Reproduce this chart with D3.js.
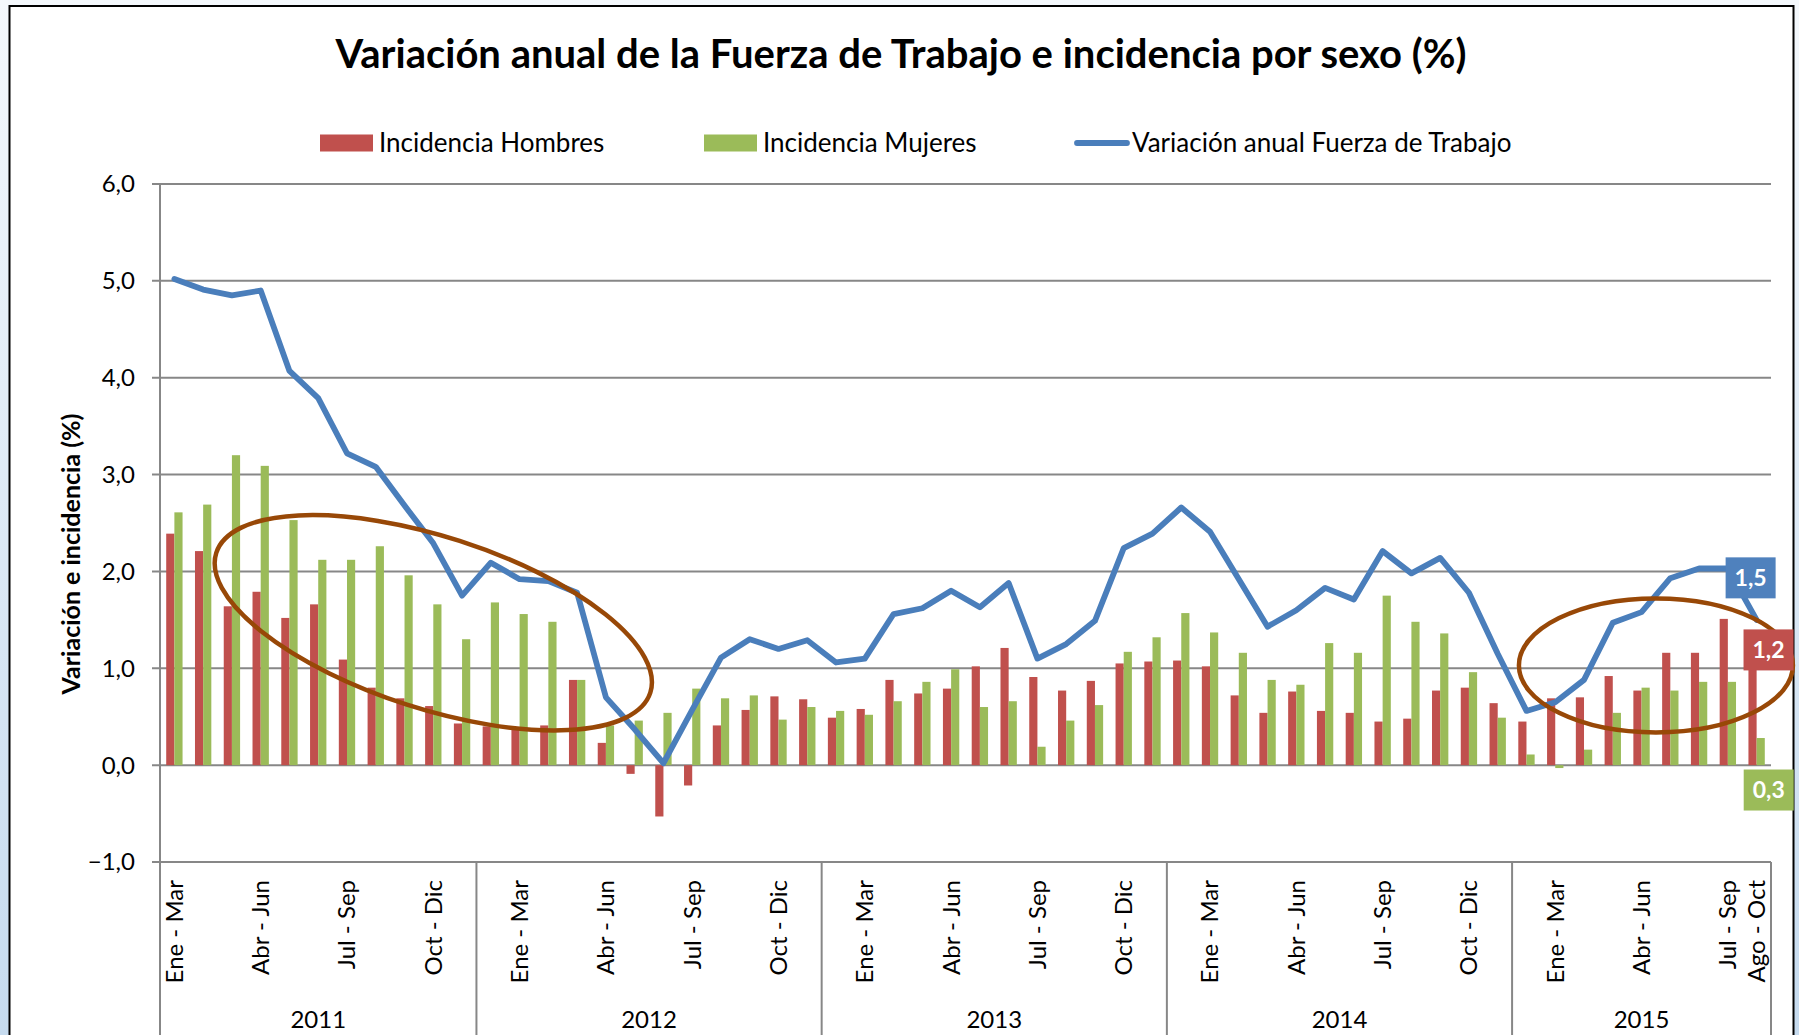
<!DOCTYPE html>
<html>
<head>
<meta charset="utf-8">
<script src="https://cdn.jsdelivr.net/npm/d3@7"></script>
<style>
  html, body { margin: 0; padding: 0; background: #fff; }
  svg { display: block; font-family: Lato, "Open Sans", sans-serif; }
</style>
</head>
<body>
<div id="chart"></div>
<script>
// Trimestres móviles y años
const trimestres = ["Ene - Mar", "Feb - Abr", "Mar - May", "Abr - Jun", "May - Jul", "Jun - Ago",
  "Jul - Sep", "Ago - Oct", "Sep - Nov", "Oct - Dic", "Nov - Ene", "Dic - Feb"];
const anios = ["2011", "2012", "2013", "2014", "2015"];
const periodosPorAnio = [11, 12, 12, 12, 9];
const etiquetasEje = ["Ene - Mar", "Abr - Jun", "Jul - Sep", "Oct - Dic"];
const yTicks = [-1, 0, 1, 2, 3, 4, 5, 6];

// Series (%)
const hombres = [2.39, 2.21, 1.64, 1.79, 1.52, 1.66, 1.09, 0.80, 0.69, 0.61, 0.43,
  0.40, 0.38, 0.41, 0.88, 0.23, -0.09, -0.53, -0.21, 0.41, 0.57, 0.71, 0.68,
  0.49, 0.58, 0.88, 0.74, 0.79, 1.02, 1.21, 0.91, 0.77, 0.87, 1.05, 1.07, 1.08,
  1.02, 0.72, 0.54, 0.76, 0.56, 0.54, 0.45, 0.48, 0.77, 0.80, 0.64, 0.45,
  0.69, 0.70, 0.92, 0.77, 1.16, 1.16, 1.51, 1.20];
const mujeres = [2.61, 2.69, 3.20, 3.09, 2.53, 2.12, 2.12, 2.26, 1.96, 1.66, 1.30,
  1.68, 1.56, 1.48, 0.88, 0.41, 0.46, 0.54, 0.79, 0.69, 0.72, 0.47, 0.60,
  0.56, 0.52, 0.66, 0.86, 0.99, 0.60, 0.66, 0.19, 0.46, 0.62, 1.17, 1.32, 1.57,
  1.37, 1.16, 0.88, 0.83, 1.26, 1.16, 1.75, 1.48, 1.36, 0.96, 0.49, 0.11,
  -0.03, 0.16, 0.54, 0.80, 0.77, 0.86, 0.86, 0.28];
const fuerzaTrabajo = [5.02, 4.91, 4.85, 4.90, 4.07, 3.79, 3.22, 3.08, 2.68, 2.29, 1.75,
  2.09, 1.92, 1.90, 1.78, 0.70, 0.37, 0.02, 0.57, 1.11, 1.30, 1.20, 1.29,
  1.06, 1.10, 1.56, 1.62, 1.80, 1.63, 1.88, 1.10, 1.25, 1.49, 2.24, 2.39, 2.66,
  2.41, 1.92, 1.43, 1.60, 1.83, 1.71, 2.21, 1.98, 2.14, 1.78, 1.15, 0.56,
  0.65, 0.88, 1.47, 1.58, 1.93, 2.03, 2.03, 1.50];

const colores = { h: "#C0504D", m: "#9BBB59", l: "#4A7EBB", elipse: "#984807" };

const width = 1799, height = 1035;
const n = hombres.length;
const periodos = d3.range(n).map(i => trimestres[i % 12]);

const loc = d3.formatLocale({ decimal: ",", thousands: ".", grouping: [3], currency: ["$", ""] });
const fmt = loc.format(".1f");

const svg = d3.select("#chart").append("svg")
  .attr("width", width)
  .attr("height", height);

// Fondo (diapositiva) y área del gráfico
const defs = svg.append("defs");
const grad = defs.append("linearGradient").attr("id", "fondo")
  .attr("x1", 0).attr("y1", 0).attr("x2", 0).attr("y2", 1);
grad.append("stop").attr("offset", "0%").attr("stop-color", "#f4f8fc");
grad.append("stop").attr("offset", "100%").attr("stop-color", "#c6dbef");
svg.append("rect").attr("width", width).attr("height", height).attr("fill", "url(#fondo)");
svg.append("rect")
  .attr("x", 9.5).attr("y", 6)
  .attr("width", 1784).attr("height", 1100)
  .attr("fill", "#fff")
  .attr("stroke", "#000")
  .attr("stroke-width", 2);

// Escalas
const x = d3.scaleBand().domain(d3.range(n)).range([160, 1771]).padding(0);
const xs = d3.scaleBand().domain(["h", "m"]).range([0, x.bandwidth()])
  .paddingInner(0).paddingOuter(0.76);
const y = d3.scaleLinear().domain([-1, 6]).range([862, 184]);

// Rejilla horizontal
svg.append("g").selectAll("line")
  .data(yTicks)
  .join("line")
  .attr("x1", 152).attr("x2", x.range()[1])
  .attr("y1", d => y(d)).attr("y2", d => y(d))
  .attr("stroke", "#878787")
  .attr("stroke-width", 2);

// Etiquetas eje Y
svg.append("g").selectAll("text")
  .data(yTicks)
  .join("text")
  .attr("x", 135)
  .attr("y", d => y(d))
  .attr("dy", "0.35em")
  .attr("text-anchor", "end")
  .attr("font-size", 24)
  .attr("fill", "#000")
  .text(d => fmt(d));

// Eje Y vertical y divisiones de años
svg.append("line")
  .attr("x1", 160).attr("x2", 160)
  .attr("y1", y(6)).attr("y2", height)
  .attr("stroke", "#878787").attr("stroke-width", 2);

let acumulado = 0;
const grupos = anios.map((a, k) => {
  const ini = acumulado;
  acumulado += periodosPorAnio[k];
  return { anio: a, x0: x(ini), x1: x(acumulado - 1) + x.bandwidth() };
});

svg.append("g").selectAll("line")
  .data(grupos)
  .join("line")
  .attr("x1", d => d.x1).attr("x2", d => d.x1)
  .attr("y1", y(-1)).attr("y2", height)
  .attr("stroke", "#878787").attr("stroke-width", 2);

svg.append("g").selectAll("text")
  .data(grupos)
  .join("text")
  .attr("x", d => (d.x0 + d.x1) / 2)
  .attr("y", 1028)
  .attr("text-anchor", "middle")
  .attr("font-size", 24)
  .text(d => d.anio);

// Etiquetas de trimestres (verticales)
const visibles = d3.range(n).filter(i => etiquetasEje.includes(periodos[i]) || i === n - 1);
svg.append("g").selectAll("text")
  .data(visibles)
  .join("text")
  .attr("transform", i => `translate(${x(i) + x.bandwidth() / 2},880) rotate(-90)`)
  .attr("dy", "0.35em")
  .attr("text-anchor", "end")
  .attr("font-size", 24)
  .text(i => periodos[i]);

// Barras
const barras = svg.append("g");
barras.selectAll("rect.h")
  .data(hombres)
  .join("rect")
  .attr("class", "h")
  .attr("x", (d, i) => x(i) + xs("h"))
  .attr("width", xs.bandwidth())
  .attr("y", d => y(Math.max(0, d)))
  .attr("height", d => Math.abs(y(d) - y(0)))
  .attr("fill", colores.h);
barras.selectAll("rect.m")
  .data(mujeres)
  .join("rect")
  .attr("class", "m")
  .attr("x", (d, i) => x(i) + xs("m"))
  .attr("width", xs.bandwidth())
  .attr("y", d => y(Math.max(0, d)))
  .attr("height", d => Math.abs(y(d) - y(0)))
  .attr("fill", colores.m);

// Línea Fuerza de Trabajo
const linea = d3.line()
  .x((d, i) => x(i) + x.bandwidth() / 2)
  .y(d => y(d));
svg.append("path")
  .datum(fuerzaTrabajo)
  .attr("d", linea)
  .attr("fill", "none")
  .attr("stroke", colores.l)
  .attr("stroke-width", 5.8)
  .attr("stroke-linejoin", "round")
  .attr("stroke-linecap", "round");

// Elipses de énfasis (centro en posición de categoría y valor)
const elipses = [
  { pos: 9.5, v: 1.47, rx: 228, ry: 86, rot: 17.85 },
  { pos: 52.0, v: 1.03, rx: 137, ry: 67, rot: 0 }
];
svg.append("g").selectAll("ellipse")
  .data(elipses)
  .join("ellipse")
  .attr("transform", d => `translate(${x(0) + d.pos * x.step()},${y(d.v)}) rotate(${d.rot})`)
  .attr("rx", d => d.rx)
  .attr("ry", d => d.ry)
  .attr("fill", "none")
  .attr("stroke", colores.elipse)
  .attr("stroke-width", 4.5);

// Etiquetas de datos del último periodo
const ult = n - 1;
const etiquetas = [
  { v: fuerzaTrabajo[ult], color: "#4F81BD", cx: x(ult) + x.bandwidth() / 2 - 6, cy: y(fuerzaTrabajo[ult]) - 42 },
  { v: hombres[ult], color: colores.h, cx: x(ult) + xs("h") + 16 + xs.bandwidth() / 2, cy: y(hombres[ult]) + 1 },
  { v: mujeres[ult], color: colores.m, cx: x(ult) + xs("m") + 8 + xs.bandwidth() / 2, cy: y(mujeres[ult]) + 52 }
];
const et = svg.append("g").selectAll("g")
  .data(etiquetas)
  .join("g")
  .attr("transform", d => `translate(${d.cx},${d.cy})`);
et.append("rect")
  .attr("x", -25).attr("y", -20.5)
  .attr("width", 50).attr("height", 41)
  .attr("fill", d => d.color);
et.append("text")
  .attr("text-anchor", "middle")
  .attr("dy", "0.36em")
  .attr("font-size", 23)
  .attr("font-weight", "bold")
  .attr("fill", "#fff")
  .text(d => fmt(d.v));

// Título
svg.append("text")
  .attr("x", 901)
  .attr("y", 68)
  .attr("text-anchor", "middle")
  .attr("font-size", 40)
  .attr("font-weight", "bold")
  .text("Variación anual de la Fuerza de Trabajo e incidencia por sexo (%)");

// Título eje Y
svg.append("text")
  .attr("transform", "translate(71,554) rotate(-90)")
  .attr("text-anchor", "middle")
  .attr("dy", "0.35em")
  .attr("font-size", 25)
  .attr("font-weight", "bold")
  .text("Variación e incidencia (%)");

// Leyenda
const leyenda = [
  { nombre: "Incidencia Hombres", tipo: "rect", color: colores.h, x: 320 },
  { nombre: "Incidencia Mujeres", tipo: "rect", color: colores.m, x: 704 },
  { nombre: "Variación anual Fuerza de Trabajo", tipo: "line", color: colores.l, x: 1075 }
];
const ley = svg.append("g").selectAll("g")
  .data(leyenda)
  .join("g")
  .attr("transform", d => `translate(${d.x},143)`);
ley.filter(d => d.tipo === "rect").append("rect")
  .attr("x", 0).attr("y", -8.5)
  .attr("width", 53).attr("height", 17)
  .attr("fill", d => d.color);
ley.filter(d => d.tipo === "line").append("line")
  .attr("x1", 2).attr("x2", 52)
  .attr("y1", 0).attr("y2", 0)
  .attr("stroke", d => d.color)
  .attr("stroke-width", 5.8)
  .attr("stroke-linecap", "round");
ley.append("text")
  .attr("x", d => d.tipo === "rect" ? 59 : 57)
  .attr("dy", "0.35em")
  .attr("font-size", 26)
  .text(d => d.nombre);
</script>
</body>
</html>
